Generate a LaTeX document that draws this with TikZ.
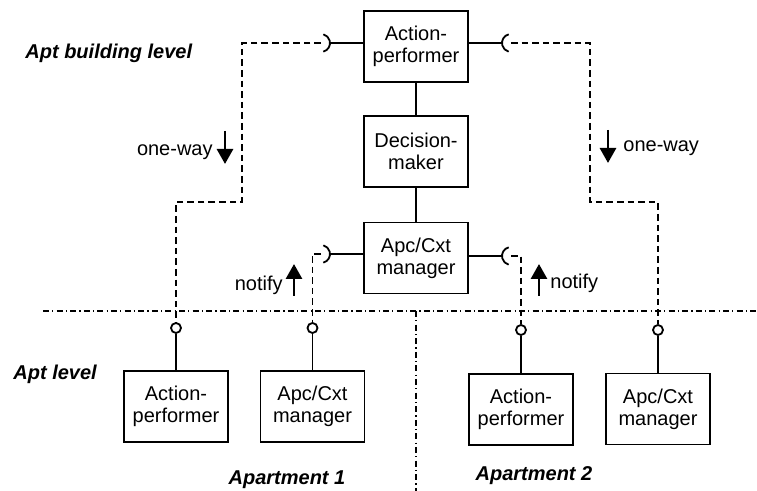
\documentclass[tikz,border=0pt]{standalone}
\usepackage{fontspec}
\setmainfont{Liberation Sans}
\usetikzlibrary{arrows.meta}

\begin{document}
\begin{tikzpicture}[x=0.5pt,y=0.5pt,font=\fontsize{10}{11}\selectfont]
	\tikzstyle{part}=[rectangle, minimum height=35.5pt, minimum width=52pt, draw=black, line width=0.9pt, align=center]
	\tikzstyle{port}=[circle, draw=black, fill=white, line width=0.9pt, minimum size=5pt, inner sep=0pt]
	\tikzstyle{wire}=[line width=0.9pt, dash pattern=on 3.3pt off 2pt]
	\tikzstyle{border}=[line width=0.6pt, dash pattern=on 3pt off 1.6pt on 0.6pt off 1.6pt]
	\tikzstyle{tag}=[inner sep=0pt, font=\fontsize{10}{11}\selectfont\bfseries\itshape]
	\tikzstyle{sig}=[line width=1.4pt, -{Triangle[width=8pt,length=7.5pt]}]
	\useasboundingbox (0,0) rectangle (757,-491);

	% level borders
	\draw[border] (43,-311) -- (757,-311);
	\draw[border] (416,-311) -- (416,-491);

	% apt building level
	\node[part] (bact) at (416,-46.5) {Action-\\performer};
	\node[part] (dec) at (416,-151.5) {Decision-\\maker};
	\node[part] (mgr) at (416,-258) {Apc/Cxt\\manager};

	% apt level
	\node[part] (aact) at (176,-406.5) {Action-\\performer};
	\node[part] (amgr) at (312.5,-406.5) {Apc/Cxt\\manager};
	\node[part] (bbact) at (521,-409.5) {Action-\\performer};
	\node[part] (bbmgr) at (658,-409) {Apc/Cxt\\manager};

	\node[port] (p1) at (176,-328) {};
	\node[port] (p2) at (312.5,-328) {};
	\node[port] (p3) at (521,-330) {};
	\node[port] (p4) at (658,-330) {};

	% sockets
	\coordinate (sl1) at (321,-43);
	\coordinate (sr1) at (511,-43);
	\coordinate (sl2) at (321,-254);
	\coordinate (sr2) at (511,-256);

	\draw[line width=0.9pt] ([shift={(-75:9)}]sl1) arc[start angle=-75, end angle=75, radius=9];
	\draw[line width=0.9pt] ([shift={(105:9)}]sr1) arc[start angle=105, end angle=255, radius=9];
	\draw[line width=0.9pt] ([shift={(-75:9)}]sl2) arc[start angle=-75, end angle=75, radius=9];
	\draw[line width=0.9pt] ([shift={(105:9)}]sr2) arc[start angle=105, end angle=255, radius=9];

	\draw[line width=0.9pt] (sl1) ++(9,0) -- (sl1 -| bact.west);
	\draw[line width=0.9pt] (sr1) ++(-9,0) -- (sr1 -| bact.east);
	\draw[line width=0.9pt] (sl2) ++(9,0) -- (sl2 -| mgr.west);
	\draw[line width=0.9pt] (sr2) ++(-9,0) -- (sr2 -| mgr.east);

	\draw[wire] (sl1) -| (242,-202) -| (p1);
	\draw[wire] (sr1) -| (590,-202) -| (p4);
	\draw[wire] (sl2) -| (p2);
	\draw[wire] (sr2) -| (p3);

	\path[line width=0.9pt]
		(bact) edge (dec)
		(dec) edge (mgr)
		(p1) edge (aact)
		(p2) edge (amgr)
		(p3) edge (bbact)
		(p4) edge (bbmgr);

	% labels
	\node[tag, anchor=west] (bldg) at (25,-53) {Apt building level};
	\node[tag, anchor=west] (aptlvl) at (13,-374) {Apt level};
	\node[tag] (apt1) at (287,-480) {Apartment 1};
	\node[tag] (apt2) at (534,-476) {Apartment 2};

	\node[anchor=east, inner sep=0pt] (ow1) at (213,-152) {one-way};
	\node[anchor=west, inner sep=0pt] (ow2) at (623,-148) {one-way};
	\node[anchor=east, inner sep=0pt] (nt1) at (283,-285) {notify};
	\node[anchor=west, inner sep=0pt] (nt2) at (550,-283) {notify};

	\coordinate (ow1s) at (225,-131);
	\coordinate (ow1e) at (225,-164);
	\coordinate (ow2s) at (608,-130);
	\coordinate (ow2e) at (608,-163);
	\coordinate (nt1s) at (294,-296);
	\coordinate (nt1e) at (294,-264);
	\coordinate (nt2s) at (539,-296);
	\coordinate (nt2e) at (539,-264);

	\path[sig]
		(ow1s) edge (ow1e)
		(ow2s) edge (ow2e)
		(nt1s) edge (nt1e)
		(nt2s) edge (nt2e);

\end{tikzpicture}
\end{document}
